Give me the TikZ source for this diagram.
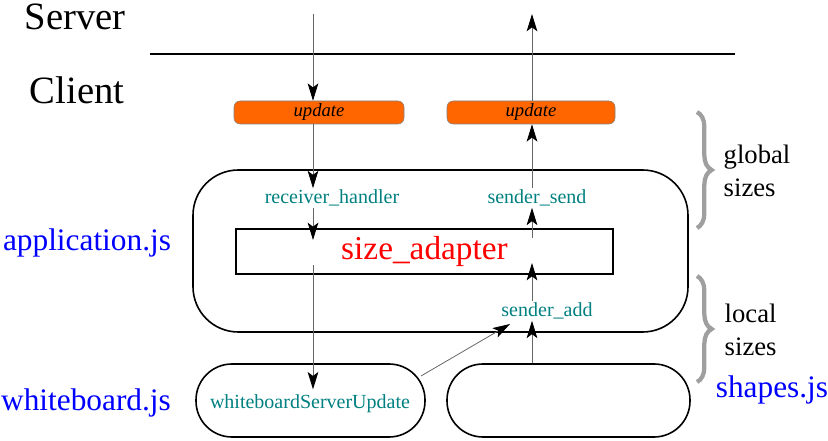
\documentclass[tikz,border=0pt]{standalone}
\usepackage{fontspec}
\setmainfont{Liberation Serif}
\usepackage{tikz}
\usetikzlibrary{arrows.meta, decorations.pathreplacing, positioning}
\definecolor{labelteal}{RGB}{0,128,128}
\definecolor{updorange}{RGB}{255,102,0}
\tikzset{>=latex}

\begin{document}
\begin{tikzpicture}[x=0.75pt, y=-0.75pt,
side/.style={font=\fontsize{29}{34}\selectfont},
jsfile/.style={text=blue, font=\fontsize{23.5}{28}\selectfont},
func/.style={text=labelteal, font=\fontsize{15}{18}\selectfont, inner sep=1pt},
updbox/.style={draw=gray, fill=updorange, rounded corners=4.5pt, minimum width=127.5pt, minimum height=17.25pt, inner sep=0pt, font=\fontsize{14}{16}\selectfont\itshape},
module/.style={draw, line width=1.2pt},
flow/.style={draw=black!60, line width=0.6pt, -{Stealth[length=13pt, width=8pt, inset=3pt, black]}},
sizebrace/.style={draw=gray!75, line width=3.2pt, decorate, decoration={brace, amplitude=11pt}},
note/.style={align=left, anchor=west, font=\fontsize{20}{24.75}\selectfont}
]
\useasboundingbox (0,0) rectangle (828,441);

\node[side] (server) at (75,17) {Server};
\node[side] (client) at (77,90) {Client};
\coordinate (sepL) at (150,54);
\coordinate (sepR) at (735,54);
\draw[line width=0.9pt] (sepL) -- (sepR);

\node[updbox] (updIn) at (319,112.5) {update};
\node[updbox, minimum width=126pt] (updOut) at (531,112.5) {update};

\node[module, minimum width=371.25pt, minimum height=121.5pt, rounded corners=34pt] (app) at (440.5,251) {};
\node[module, minimum width=282.75pt, minimum height=33.75pt, text=red, font=\fontsize{25}{30}\selectfont] (adapter) at (424.5,251.5) {size\_adapter};
\node[func] (recv) at (332,198) {receiver\_handler};
\node[func] (send) at (537,198) {sender\_send};
\node[func] (add) at (547,311) {sender\_add};

\node[module, minimum width=171.75pt, minimum height=54.75pt, rounded corners=27pt] (wb) at (310.5,400.5) {};
\node[func, inner sep=4pt] (wbupd) at (310,404) {whiteboardServerUpdate};
\node[module, minimum width=182.25pt, minimum height=54.75pt, rounded corners=27pt] (shapes) at (568.5,400.5) {};

\node[jsfile] (appjs) at (87,243) {application.js};
\node[jsfile] (wbjs) at (86,403) {whiteboard.js};
\node[jsfile] (shjs) at (772,390) {shapes.js};

\coordinate (gTop) at (697,112);
\coordinate (gBot) at (697,228);
\draw[sizebrace] (gTop) -- (gBot);
\node[note] (global) at (719,171) {global\\sizes};
\coordinate (lTop) at (697,276);
\coordinate (lBot) at (697,382);
\draw[sizebrace] (lTop) -- (lBot);
\node[note] (local) at (720,329.5) {local\\sizes};

\coordinate (fromSrv) at (313,14);
\coordinate (toSrv) at (532,14);
\coordinate (adIn) at (313,240);
\coordinate (adOut) at (313,265);
\coordinate (addIn) at (532,263);
\coordinate (sendFrom) at (532,238);
\coordinate (wbOut) at (421,376);
\coordinate (addTip) at (510,324);

\path[every edge/.style=flow]
(fromSrv) edge (fromSrv |- updIn.north)
(fromSrv |- updIn.south) edge (fromSrv |- recv.north)
(fromSrv |- recv.south) edge (adIn)
(adOut) edge (adOut |- wbupd.north)
(toSrv |- shapes.north) edge (toSrv |- add.south)
(toSrv |- add.north) edge (addIn)
(sendFrom) edge (toSrv |- send.south)
(toSrv |- send.north) edge (toSrv |- updOut.south)
(toSrv |- updOut.north) edge (toSrv)
(wbOut) edge (addTip)
;
\end{tikzpicture}
\end{document}
